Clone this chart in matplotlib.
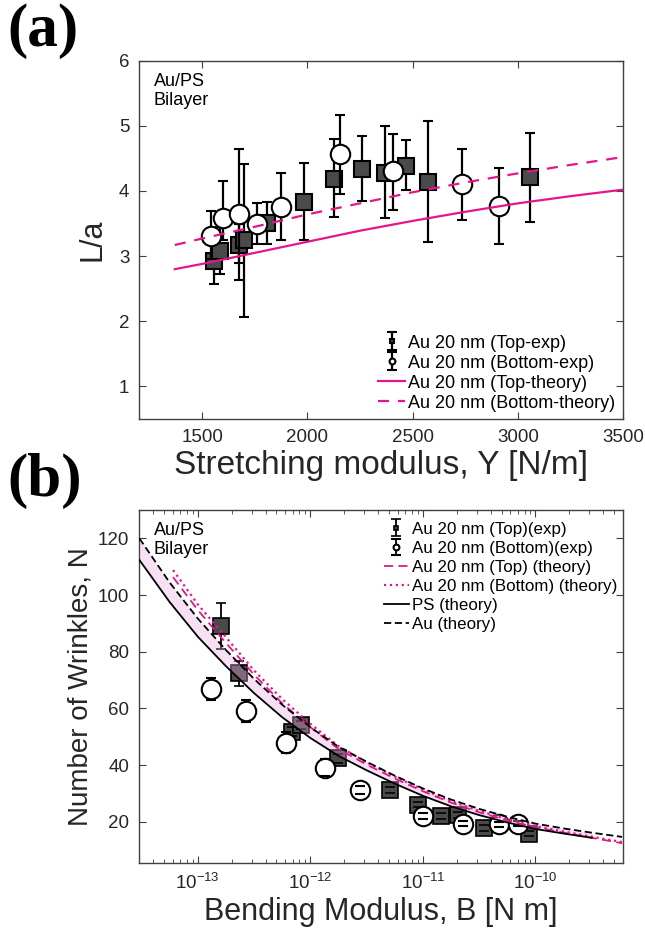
import numpy as np
import matplotlib
matplotlib.use('Agg')
import matplotlib.pyplot as plt
from matplotlib.ticker import LogLocator, NullFormatter

plt.rcParams['font.family'] = ['Liberation Sans', 'DejaVu Sans']
plt.rcParams['mathtext.default'] = 'regular'

# ---------------- panel (a) data ----------------
top_Y = [1555, 1585, 1675, 1700, 1810, 1985, 2125, 2260, 2370, 2470, 2575, 3060]
top_La = [2.93, 3.08, 3.17, 3.24, 3.51, 3.83, 4.19, 4.34, 4.28, 4.39, 4.14, 4.21]
top_lo = [2.57, 2.72, 2.90, 2.07, 3.18, 3.24, 3.60, 3.85, 3.59, 4.01, 3.21, 3.53]
top_hi = [3.30, 3.45, 3.50, 4.42, 3.83, 4.43, 4.79, 4.84, 4.99, 4.78, 5.07, 4.89]

bot_Y = [1540, 1598, 1673, 1762, 1876, 2154, 2408, 2733, 2913]
bot_La = [3.31, 3.59, 3.64, 3.50, 3.76, 4.56, 4.30, 4.10, 3.77]
bot_lo = [2.95, 3.24, 2.63, 3.18, 3.24, 3.95, 3.71, 3.55, 3.18]
bot_hi = [3.69, 4.15, 4.65, 3.82, 4.27, 5.17, 4.88, 4.65, 4.35]

th_Y = [1370, 1500, 1750, 2000, 2250, 2500, 2750, 3000, 3250, 3500]
th_top = [2.80, 2.88, 3.05, 3.22, 3.39, 3.54, 3.68, 3.81, 3.92, 4.02]
th_bot = [3.17, 3.27, 3.45, 3.64, 3.81, 3.98, 4.13, 4.27, 4.40, 4.52]

# ---------------- panel (b) data ----------------
topB = [1.62e-13, 2.31e-13, 6.8e-13, 8.2e-13, 1.76e-12, 5.13e-12, 9.0e-12, 1.45e-11, 2.04e-11, 3.47e-11, 8.8e-11]
topN = [89.1, 72.4, 51.8, 54.1, 42.4, 31.2, 26.1, 22.0, 22.4, 17.9, 15.9]
topN_err = [8.0, 4.5, 1.5, 1.5, 1.5, 1.0, 1.0, 1.0, 1.0, 1.0, 1.0]

botB = [1.30e-13, 2.70e-13, 6.1e-13, 1.34e-12, 2.78e-12, 1.01e-11, 2.26e-11, 4.79e-11, 6.95e-11]
botN = [66.8, 59.1, 48.0, 39.1, 31.2, 22.1, 19.4, 19.1, 19.4]
botN_err = [3.8, 3.8, 3.8, 3.0, 1.5, 1.0, 1.0, 1.0, 1.0]

# theory curves (log10 B -> N)
au_logB = [-13.52, -13.25, -13.0, -12.75, -12.5, -12.25, -12.0, -11.75, -11.5, -11.25,
           -11.0, -10.75, -10.5, -10.25, -10.0, -9.75, -9.5, -9.23]
au_N = [120.0, 104.4, 91.7, 80.6, 70.4, 61.3, 53.4, 46.5, 41.2, 36.3,
        31.8, 27.9, 24.6, 21.8, 19.4, 17.7, 16.2, 14.7]
ps_N = [112.4, 97.5, 85.3, 74.9, 65.4, 56.9, 49.6, 43.3, 38.2, 33.5,
        29.2, 25.5, 22.4, 19.8, 17.5, 15.9, 14.4]
pk_logB = [-13.22, -13.0, -12.75, -12.5, -12.25, -12.0, -11.75, -11.5, -11.25,
           -11.0, -10.75, -10.5, -10.25, -10.0, -9.75, -9.5, -9.23]
pk_top = [106.3, 94.7, 83.1, 71.9, 61.8, 53.4, 45.7, 40.2, 35.3,
          30.8, 26.8, 23.4, 20.5, 18.1, 16.2, 14.4, 12.5]
pk_bot = [108.8, 96.7, 85.1, 73.4, 63.3, 54.6, 46.7, 41.0, 36.0,
          31.4, 27.3, 23.9, 20.9, 18.5, 16.6, 14.8, 12.9]

pink = '#e5168a'
sq_col = '#4a4a4a'
txt = '#262626'

fig = plt.figure(figsize=(6.45, 9.33), dpi=100)
ax1 = fig.add_axes([0.2155, 0.5509, 0.7504, 0.3841])
ax2 = fig.add_axes([0.2155, 0.0750, 0.7504, 0.3784])

# ---- (a) ----
e1 = ax1.errorbar(top_Y, top_La,
                  yerr=[np.array(top_La) - np.array(top_lo), np.array(top_hi) - np.array(top_La)],
                  fmt='s', ms=11, mfc=sq_col, mec='black', mew=1.5, ecolor='black',
                  elinewidth=1.6, capsize=3.5, capthick=1.6, zorder=3)
e2 = ax1.errorbar(bot_Y, bot_La,
                  yerr=[np.array(bot_La) - np.array(bot_lo), np.array(bot_hi) - np.array(bot_La)],
                  fmt='o', ms=14, mfc='white', mec='black', mew=1.5, ecolor='black',
                  elinewidth=1.6, capsize=3.5, capthick=1.6, zorder=4)
l1, = ax1.plot(th_Y, th_top, '-', color=pink, lw=1.6, zorder=5)
l2, = ax1.plot(th_Y, th_bot, '--', color=pink, lw=1.6, dashes=(5, 4), zorder=5)

ax1.set_xlim(1200, 3500)
ax1.set_ylim(0.5, 6)
ax1.set_xticks([1500, 2000, 2500, 3000, 3500])
ax1.set_yticks([1, 2, 3, 4, 5, 6])
ax1.set_xlabel('Stretching modulus, Y [N/m]', fontsize=24, color=txt, labelpad=3)
ax1.set_ylabel('L/a', fontsize=22, color=txt, labelpad=8)
ax1.text(0.03, 0.965, 'Au/PS\nBilayer', transform=ax1.transAxes, fontsize=13,
         va='top', ha='left', linespacing=1.15)
ax1.legend([e1, e2, l1, l2],
           ['Au 20 nm (Top-exp)', 'Au 20 nm (Bottom-exp)',
            'Au 20 nm (Top-theory)', 'Au 20 nm (Bottom-theory)'],
           loc='lower right', bbox_to_anchor=(1.002, -0.005), frameon=False, fontsize=13,
           markerscale=0.3, handlelength=1.5, handletextpad=0.15, labelspacing=0.17,
           borderaxespad=0.1, numpoints=1)

# ---- (b) ----
f1 = ax2.errorbar(topB, topN, yerr=topN_err, fmt='s', ms=11.5, mfc=sq_col, mec='black', mew=1.2,
                  ecolor='black', elinewidth=1.3, capsize=3.5, capthick=1.3, zorder=3)
f2 = ax2.errorbar(botB, botN, yerr=botN_err, fmt='o', ms=14, mfc='white', mec='black', mew=1.5,
                  ecolor='black', elinewidth=1.3, capsize=3.5, capthick=1.3, zorder=4)
# caps of the panel (b) error bars show through the markers, the bars do not
for cont, z in ((f1, 3), (f2, 4)):
    cont.lines[0].set_zorder(z)
    for c in cont.lines[1]:
        c.set_zorder(z + 0.1)
    for b in cont.lines[2]:
        b.set_zorder(z - 0.1)

au_B = 10 ** np.array(au_logB)
ps_B = au_B[:len(ps_N)]
ax2.fill_between(ps_B, au_N[:len(ps_N)], ps_N, color='#eaa8df', alpha=0.35, lw=0, zorder=5)
pk_B = 10 ** np.array(pk_logB)
m1, = ax2.plot(pk_B, pk_top, '--', color=pink, lw=1.3, dashes=(5, 3), zorder=6)
m2, = ax2.plot(pk_B, pk_bot, ':', color=pink, lw=1.6, zorder=6)
m3, = ax2.plot(ps_B, ps_N, '-', color='black', lw=1.3, zorder=7)
m4, = ax2.plot(au_B, au_N, '--', color='black', lw=1.3, dashes=(4, 2), zorder=7)

ax2.set_xscale('log')
ax2.set_xlim(3e-14, 6e-10)
ax2.set_ylim(5.5, 130)
ax2.set_xticks([1e-13, 1e-12, 1e-11, 1e-10])
ax2.xaxis.set_minor_locator(LogLocator(base=10, subs=np.arange(2, 10), numticks=20))
ax2.xaxis.set_minor_formatter(NullFormatter())
ax2.set_yticks([20, 40, 60, 80, 100, 120])
ax2.set_xlabel('Bending Modulus, B [N m]', fontsize=22, color=txt, labelpad=3)
ax2.set_ylabel('Number of Wrinkles, N', fontsize=20, color=txt, labelpad=3)
ax2.text(0.03, 0.965, 'Au/PS\nBilayer', transform=ax2.transAxes, fontsize=13,
         va='top', ha='left', linespacing=1.15, zorder=8)
ax2.legend([f1, f2, m1, m2, m3, m4],
           ['Au 20 nm (Top)(exp)', 'Au 20 nm (Bottom)(exp)', 'Au 20 nm (Top) (theory)',
            'Au 20 nm (Bottom) (theory)', 'PS (theory)', 'Au (theory)'],
           loc='upper right', bbox_to_anchor=(1.012, 1.0), frameon=False, fontsize=12.2,
           markerscale=0.3, handlelength=1.5, handletextpad=0.15, labelspacing=0.24,
           borderaxespad=0.3, numpoints=1)

for ax in (ax1, ax2):
    for s in ax.spines.values():
        s.set_color('#404040')
        s.set_linewidth(1.0)
    ax.tick_params(which='both', direction='in', top=True, right=True, labelsize=13.5,
                   colors='#404040', labelcolor=txt, pad=7)
    ax.tick_params(which='major', length=5)
    ax.tick_params(which='minor', length=3)

fig.text(0.012, 0.997, '(a)', fontsize=44, fontweight='bold', family='Liberation Serif',
         va='top', ha='left')
fig.text(0.012, 0.515, '(b)', fontsize=44, fontweight='bold', family='Liberation Serif',
         va='top', ha='left')

fig.savefig('out.png', dpi=100)
